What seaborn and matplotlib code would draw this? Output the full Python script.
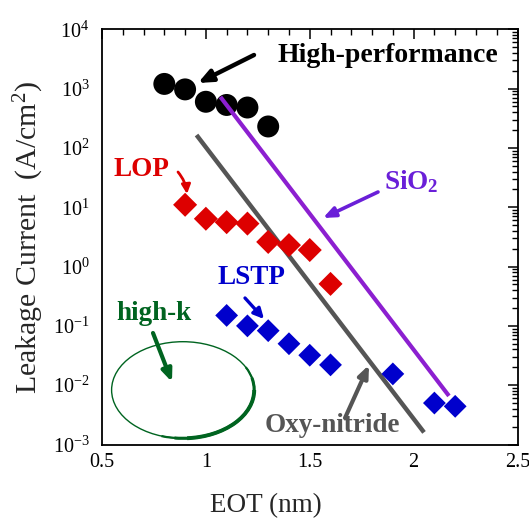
import numpy as np
import pandas as pd
import matplotlib
matplotlib.use("Agg")
import matplotlib.pyplot as plt
from matplotlib.patches import Ellipse, Arc
from matplotlib.ticker import LogLocator, MultipleLocator, FixedLocator
import seaborn as sns

# ---- data ----
hp_eot = [0.8, 0.9, 1.0, 1.1, 1.2, 1.3]
hp_j = [1200, 970, 600, 530, 480, 230]

lop_eot = [0.9, 1.0, 1.1, 1.2, 1.3, 1.4, 1.5, 1.6]
lop_j = [11, 6.4, 5.6, 5.3, 2.6, 2.3, 1.9, 0.51]

lstp_eot = [1.1, 1.2, 1.3, 1.4, 1.5, 1.6, 1.9, 2.1, 2.2]
lstp_j = [0.15, 0.10, 0.083, 0.050, 0.032, 0.022, 0.0155, 0.0050, 0.0044]

sio2_eot = [1.07, 2.17]
sio2_j = [724, 0.0066]

oxy_eot = [0.955, 2.05]
oxy_j = [165, 0.0016]

x_ticks = [0.5, 1.0, 1.5, 2.0, 2.5]
x_tick_labels = ["0.5", "1", "1.5", "2", "2.5"]

RED = "#dd0000"
BLUE = "#0000cc"
PURPLE = "#8c1fd0"
PURPLE_TXT = "#6a1fd8"
GREEN = "#006420"
GRAY = "#555555"

sns.set_theme(style="white")
plt.rcParams.update({
    "font.family": ["Liberation Serif", "DejaVu Serif"],
    "mathtext.fontset": "custom",
    "mathtext.rm": "Liberation Serif",
    "mathtext.it": "Liberation Serif:italic",
    "mathtext.bf": "Liberation Serif:bold",
    "axes.edgecolor": "black",
    "axes.linewidth": 1.3,
    "xtick.direction": "in",
    "ytick.direction": "in",
    "xtick.top": True,
    "ytick.right": True,
    "xtick.color": "black",
    "ytick.color": "black",
})

W, H = 529, 519
fig = plt.figure(figsize=(W / 100, H / 100), dpi=100)
ax = fig.add_axes([102 / W, 1 - 444.5 / H, (517.5 - 102) / W, (444.5 - 29.3) / H])

hp = pd.DataFrame({"eot": hp_eot, "j": hp_j})
lop = pd.DataFrame({"eot": lop_eot, "j": lop_j})
lstp = pd.DataFrame({"eot": lstp_eot, "j": lstp_j})
sio2 = pd.DataFrame({"eot": sio2_eot, "j": sio2_j})
oxy = pd.DataFrame({"eot": oxy_eot, "j": oxy_j})

ax.set_yscale("log")

sns.lineplot(data=oxy, x="eot", y="j", ax=ax, color=GRAY, lw=3.2, zorder=2,
             solid_capstyle="butt")
sns.scatterplot(data=lop, x="eot", y="j", ax=ax, marker="D", s=150, color=RED,
                edgecolor="none", zorder=3)
sns.scatterplot(data=lstp, x="eot", y="j", ax=ax, marker="D", s=135, color=BLUE,
                edgecolor="none", zorder=3)
sns.scatterplot(data=hp, x="eot", y="j", ax=ax, marker="o", s=250, color="black",
                edgecolor="none", zorder=3)
sns.lineplot(data=sio2, x="eot", y="j", ax=ax, color=PURPLE, lw=3.0, zorder=4,
             solid_capstyle="butt")

ax.set_xlim(0.5, 2.5)
ax.set_ylim(1e-3, 1e4)
ax.xaxis.set_major_locator(FixedLocator(x_ticks))
ax.set_xticklabels(x_tick_labels)
ax.xaxis.set_minor_locator(MultipleLocator(0.1))
ax.yaxis.set_major_locator(LogLocator(base=10, numticks=20))
ax.yaxis.set_minor_locator(LogLocator(base=10, subs=np.arange(2, 10), numticks=20))
ax.tick_params(which="major", length=7, width=1.1, labelsize=14.5, pad=9)
ax.tick_params(which="minor", length=4, width=1.0)
ax.tick_params(axis="x", which="major", pad=6)

ax.set_xlabel("EOT (nm)", fontsize=19.5)
ax.xaxis.set_label_coords(0.395, -0.117)
ax.set_ylabel("Leakage Current  (A/cm$^2$)", fontsize=21.5)
ax.yaxis.set_label_coords(-0.134, 0.5)


def fp(x, y):
    """Pixel position (from top-left) to figure fraction."""
    return (x / W, 1 - y / H)


def label(text, x, y, color, size):
    fig.text(*fp(x, y), text, color=color, fontsize=size, fontweight="bold",
             ha="center", va="center")


def arrow(tail, head, color, lw, hl=0.5, hw=0.25, rad=0.0):
    ax.annotate("", xy=fp(*head), xycoords="figure fraction",
                xytext=fp(*tail), textcoords="figure fraction",
                arrowprops=dict(arrowstyle=f"-|>,head_length={hl},head_width={hw}",
                                color=color, lw=lw, shrinkA=0, shrinkB=0,
                                connectionstyle=f"arc3,rad={rad}"))


label("High-performance", 387.5, 55, "black", 20)
arrow((254, 55), (198, 83), "black", 3.2, 0.7, 0.3)

label("LOP", 141, 170, RED, 19.5)
arrow((178, 172), (187, 194), RED, 2.0, 0.45, 0.22, rad=-0.15)

label("SiO$_\\mathbf{2}$", 411, 182, PURPLE_TXT, 19.5)
arrow((378, 192), (323, 218), PURPLE_TXT, 2.6, 0.6, 0.25)

label("LSTP", 251.5, 277, BLUE, 19.5)
arrow((245, 298), (264, 319), BLUE, 2.4, 0.5, 0.25)

label("high-k", 153.5, 313, GREEN, 19.5)
arrow((153, 333), (172, 382), GREEN, 3.0, 0.6, 0.25)

label("Oxy-nitride", 332.5, 426, GRAY, 19.5)
arrow((345, 418), (369, 365), GRAY, 3.0, 0.6, 0.25)

# high-k region outline, heavier along the lower right edge
ex, ey = (182.9 - 102) / 415.5, (444.5 - 390) / 415.2
ew, eh = 142.6 / 415.5, 96.6 / 415.2
ax.add_patch(Ellipse((ex, ey), ew, eh, transform=ax.transAxes, fill=False,
                     ec=GREEN, lw=1.0, zorder=2))
for t1, t2, lw in [(-115, 20, 1.6), (-100, 10, 2.2), (-85, 0, 2.8)]:
    ax.add_patch(Arc((ex, ey), ew, eh, theta1=t1, theta2=t2, transform=ax.transAxes,
                     ec=GREEN, lw=lw, zorder=2))

for sp in ax.spines.values():
    sp.set_visible(True)
    sp.set_color("black")

fig.savefig("out.png", dpi=100)
